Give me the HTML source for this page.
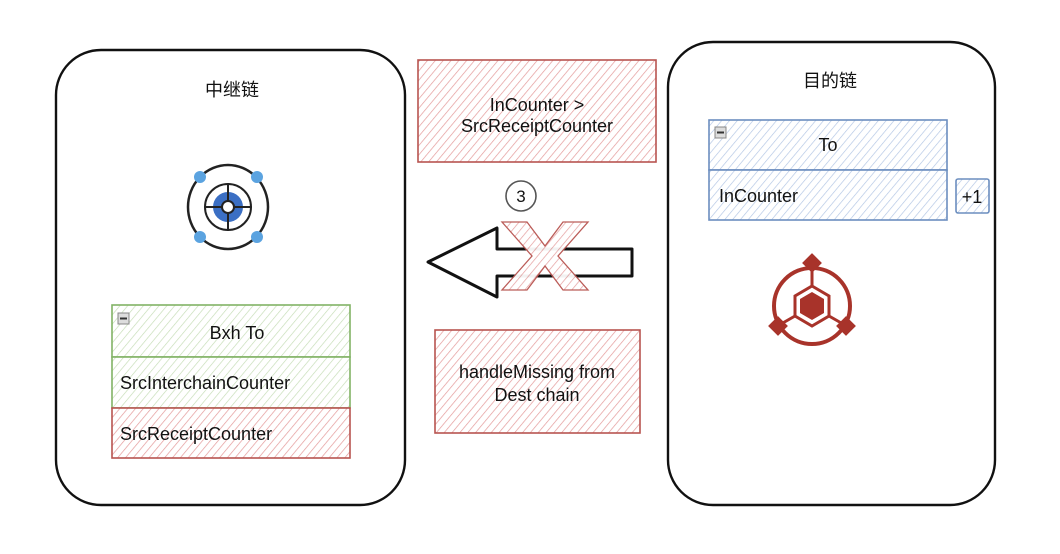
<!DOCTYPE html>
<html><head><meta charset="utf-8"><style>
html,body{margin:0;padding:0;background:#fff;width:1060px;height:554px;overflow:hidden}
svg{display:block}
text{font-family:"Liberation Sans","Noto Sans CJK SC",sans-serif;fill:#111}
</style></head><body>
<svg width="1060" height="554" viewBox="0 0 1060 554" xmlns="http://www.w3.org/2000/svg">
<defs>
<pattern id="hr" width="6" height="6" patternUnits="userSpaceOnUse" patternTransform="rotate(40)">
<rect width="6" height="6" fill="#fff"/><line x1="0" y1="0" x2="0" y2="6" stroke="#e49a9a" stroke-width="1.4"/></pattern>
<pattern id="hg" width="6" height="6" patternUnits="userSpaceOnUse" patternTransform="rotate(40)">
<rect width="6" height="6" fill="#fff"/><line x1="0" y1="0" x2="0" y2="6" stroke="#c4dcb4" stroke-width="1.3"/></pattern>
<pattern id="hb" width="6" height="6" patternUnits="userSpaceOnUse" patternTransform="rotate(40)">
<rect width="6" height="6" fill="#fff"/><line x1="0" y1="0" x2="0" y2="6" stroke="#b0c4e4" stroke-width="1.3"/></pattern>
</defs>

<rect x="56" y="50" width="349" height="455" rx="45" fill="none" stroke="#111" stroke-width="2.4"/>
<rect x="668" y="42" width="327" height="463" rx="45" fill="none" stroke="#111" stroke-width="2.4"/>
<text x="232" y="96" font-size="18" text-anchor="middle">中继链</text>
<text x="830" y="87" font-size="18" text-anchor="middle">目的链</text>

<rect x="418" y="60" width="238" height="102" fill="url(#hr)" stroke="#b85450" stroke-width="1.6"/>
<text x="537" y="111" font-size="18" text-anchor="middle">InCounter &gt;</text>
<text x="537" y="132" font-size="18" text-anchor="middle">SrcReceiptCounter</text>

<circle cx="521" cy="196" r="15" fill="#fff" stroke="#555" stroke-width="1.6"/>
<text x="521" y="202" font-size="17" text-anchor="middle">3</text>

<path d="M428 262 L497 228 L497 249 L632 249 L632 276 L497 276 L497 297 Z" fill="#fff" stroke="#111" stroke-width="3" stroke-linejoin="round"/>
<path d="M502 222 L527 222 L545 246 L563 222 L588 222 L558 256 L588 290 L563 290 L545 266 L527 290 L502 290 L532 256 Z" fill="url(#hr)" stroke="#b85450" stroke-width="1.3" opacity="0.95"/>

<rect x="435" y="330" width="205" height="103" fill="url(#hr)" stroke="#b85450" stroke-width="1.6"/>
<text x="537" y="378" font-size="18" text-anchor="middle">handleMissing from</text>
<text x="537" y="401" font-size="18" text-anchor="middle">Dest chain</text>

<g>
<ellipse cx="228" cy="207" rx="40" ry="42" fill="none" stroke="#222" stroke-width="2.5"/>
<circle cx="228" cy="207" r="23" fill="#fff" stroke="#222" stroke-width="2"/>
<circle cx="228" cy="207" r="15" fill="#3b6fc4"/>
<line x1="204" y1="207" x2="252" y2="207" stroke="#222" stroke-width="2"/>
<line x1="228" y1="183" x2="228" y2="231" stroke="#222" stroke-width="2"/>
<circle cx="228" cy="207" r="6" fill="#fff" stroke="#222" stroke-width="2"/>
<circle cx="200" cy="177" r="6" fill="#5ba3e0"/><circle cx="257" cy="177" r="6" fill="#5ba3e0"/>
<circle cx="200" cy="237" r="6" fill="#5ba3e0"/><circle cx="257" cy="237" r="6" fill="#5ba3e0"/>
</g>

<rect x="112" y="305" width="238" height="52" fill="url(#hg)" stroke="#82b366" stroke-width="1.6"/>
<rect x="112" y="357" width="238" height="51" fill="url(#hg)" stroke="#82b366" stroke-width="1.6"/>
<rect x="112" y="408" width="238" height="50" fill="url(#hr)" stroke="#b85450" stroke-width="1.6"/>
<rect x="118" y="313" width="11" height="11" fill="#ddd" stroke="#888"/><line x1="120" y1="318.5" x2="127" y2="318.5" stroke="#333" stroke-width="2"/>
<text x="237" y="339" font-size="18" text-anchor="middle">Bxh To</text>
<text x="120" y="389" font-size="18">SrcInterchainCounter</text>
<text x="120" y="440" font-size="18">SrcReceiptCounter</text>

<rect x="709" y="120" width="238" height="50" fill="url(#hb)" stroke="#6c8ebf" stroke-width="1.6"/>
<rect x="709" y="170" width="238" height="50" fill="url(#hb)" stroke="#6c8ebf" stroke-width="1.6"/>
<rect x="715" y="127" width="11" height="11" fill="#ddd" stroke="#888"/><line x1="717" y1="132.5" x2="724" y2="132.5" stroke="#333" stroke-width="2"/>
<text x="828" y="151" font-size="18" text-anchor="middle">To</text>
<text x="719" y="202" font-size="18">InCounter</text>
<rect x="956" y="179" width="33" height="34" rx="2" fill="url(#hb)" stroke="#6c8ebf" stroke-width="1.6"/>
<text x="972" y="203" font-size="18" text-anchor="middle">+1</text>

<g stroke="#a8332a" fill="none">
<circle cx="812" cy="306" r="38" stroke-width="4"/>
<path d="M812 286 L829 296 L829 316 L812 326 L795 316 L795 296 Z" fill="#fff" stroke-width="3"/>
<path d="M812 292 L824 299 L824 313 L812 320 L800 313 L800 299 Z" fill="#a8332a" stroke="none"/>
<line x1="812" y1="268" x2="812" y2="286" stroke-width="3"/>
<line x1="795" y1="316" x2="781" y2="324" stroke-width="3"/>
<line x1="829" y1="316" x2="843" y2="324" stroke-width="3"/>
</g>
<g fill="#a8332a">
<rect x="805" y="256" width="14" height="14" transform="rotate(45 812 263)"/>
<rect x="771" y="319" width="14" height="14" transform="rotate(45 778 326)"/>
<rect x="839" y="319" width="14" height="14" transform="rotate(45 846 326)"/>
</g>
</svg>
</body></html>
